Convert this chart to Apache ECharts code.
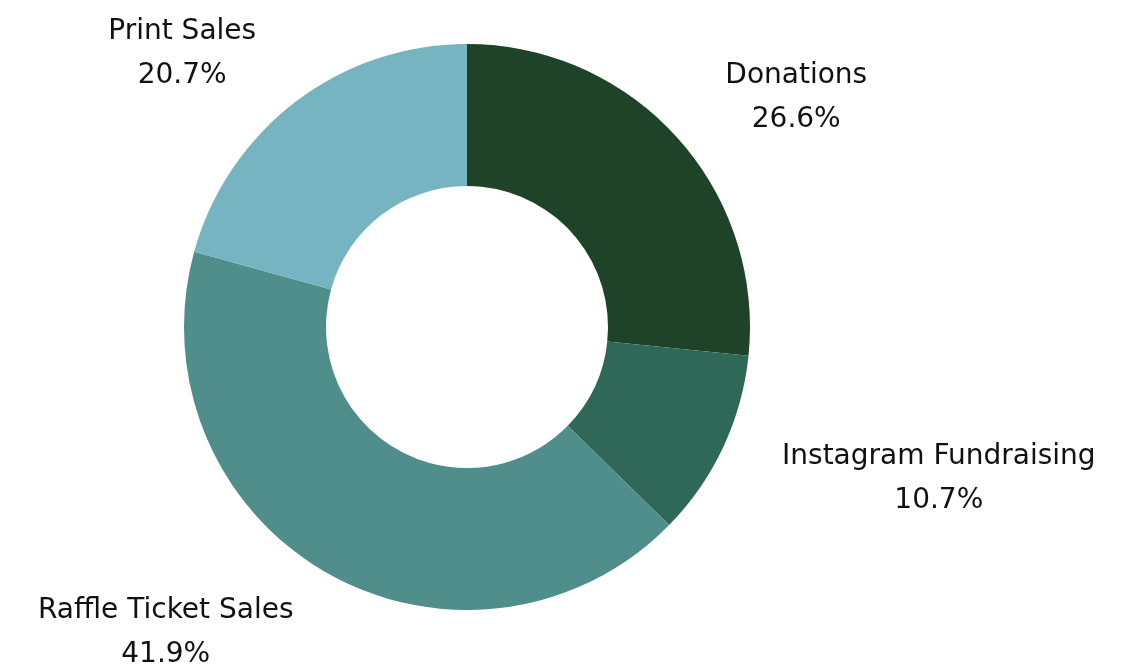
<!DOCTYPE html>
<html>
<head>
<meta charset="utf-8">
<script src="https://cdn.jsdelivr.net/npm/echarts@6/dist/echarts.min.js"></script>
<style>html,body{margin:0;padding:0;background:#fff;}#c{width:1138px;height:666px;}</style>
</head>
<body>
<div id="c"></div>
<script>
const categories = ['Donations', 'Instagram Fundraising', 'Raffle Ticket Sales', 'Print Sales'];
const values = [26.6, 10.7, 41.9, 20.7];
const colors = ['#1f4329', '#306857', '#4f8e8a', '#75b4c0'];

const chart = echarts.init(document.getElementById('c'));
chart.setOption({
  animation: false,
  backgroundColor: '#ffffff',
  series: [{
    type: 'pie',
    center: [467, 327],
    radius: [141, 283],
    startAngle: 90,
    clockwise: true,
    avoidLabelOverlap: false,
    data: categories.map((n, i) => ({ name: n, value: values[i], itemStyle: { color: colors[i] } })),
    itemStyle: { borderWidth: 0 },
    label: {
      show: true,
      position: 'outside',
      distanceToLabelLine: 0,
      padding: [8, 0, 0, 0],
      formatter: p => '{a|' + p.name + '}\n{a|' + p.value.toFixed(1) + '%}',
      rich: {
        a: { fontFamily: 'DejaVu Sans', fontSize: 28, lineHeight: 44, color: '#111111', align: 'center' }
      }
    },
    labelLine: { show: false, length: 65, length2: 0 },
    emphasis: { disabled: true }
  }]
});
</script>
</body>
</html>
